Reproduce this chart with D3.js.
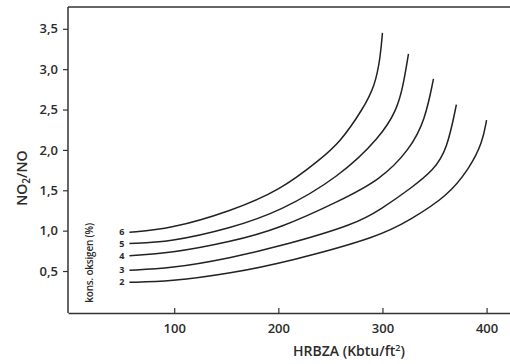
<!DOCTYPE html>
<html>
<head>
<meta charset="utf-8">
<script src="https://cdn.jsdelivr.net/npm/d3@7"></script>
<style>
  body { margin: 0; background: #fff; }
  svg text { font-family: "Open Sans", sans-serif; fill: #2b2b2b; }
</style>
</head>
<body>
<svg id="chart" width="510" height="364"></svg>
<script>
// oxygen concentration (%) per curve, top to bottom
const oxygen = [6, 5, 4, 3, 2];

// HRBZA (Kbtu/ft2) vs NO2/NO
const curve6 = [[57,0.98],[96,1.02],[154,1.24],[202,1.50],[240,1.88],[259,2.09],[281,2.50],[293,2.80],[298,3.15],[300,3.45]];
const curve5 = [[57,0.84],[96,0.86],[154,1.03],[202,1.24],[259,1.67],[298,2.16],[314,2.50],[320,2.80],[325,3.19]];
const curve4 = [[57,0.69],[96,0.72],[154,0.86],[202,1.03],[259,1.37],[298,1.63],[326,2.00],[341,2.37],[349,2.88]];
const curve3 = [[57,0.51],[96,0.53],[154,0.66],[206,0.82],[274,1.08],[298,1.26],[329,1.54],[349,1.75],[362,2.00],[371,2.56]];
const curve2 = [[57,0.36],[96,0.37],[154,0.47],[211,0.62],[298,0.93],[326,1.13],[362,1.42],[384,1.78],[396,2.09],[400,2.37]];
const curves = [curve6, curve5, curve4, curve3, curve2];

const xTicks = [100, 200, 300, 400];
const yTicks = [0.5, 1.0, 1.5, 2.0, 2.5, 3.0, 3.5];

const margin = {top: 7, right: 0, bottom: 51, left: 68};
const width = 510, height = 364;

const svg = d3.select("#chart");

const x = d3.scaleLinear()
  .domain([-2, 422.5])
  .range([margin.left, width - margin.right]);

const y = d3.scaleLinear()
  .domain([-0.02, 3.77])
  .range([height - margin.bottom, margin.top]);

// frame: top line (left and bottom come from the axes)
svg.append("line")
  .attr("x1", margin.left).attr("x2", width)
  .attr("y1", margin.top).attr("y2", margin.top)
  .attr("stroke", "#333").attr("stroke-width", 1.5);

const xAxis = svg.append("g")
  .attr("transform", "translate(0," + (height - margin.bottom) + ")")
  .call(d3.axisBottom(x).tickValues(xTicks).tickSizeInner(-5).tickSizeOuter(0).tickPadding(11));

const yAxis = svg.append("g")
  .attr("transform", "translate(" + margin.left + ",0)")
  .call(d3.axisLeft(y).tickValues(yTicks).tickSizeInner(5).tickSizeOuter(0).tickPadding(5)
    .tickFormat(d => d3.format(".1f")(d).replace(".", ",")));

[xAxis, yAxis].forEach(g => {
  g.select(".domain").attr("stroke", "#333").attr("stroke-width", 1.5);
  g.selectAll(".tick line").attr("stroke", "#333").attr("stroke-width", 1.2);
  g.selectAll(".tick text")
    .attr("font-family", "'Open Sans', sans-serif")
    .attr("font-size", 13)
    .attr("font-weight", 600)
    .attr("fill", "#2b2b2b");
});
yAxis.select(".domain").attr("d", "M0," + margin.top + "V" + (height - margin.bottom));

// the curves, smoothed
const line = d3.line()
  .x(d => x(d[0]))
  .y(d => y(d[1]))
  .curve(d3.curveBasis);

svg.selectAll("path.curve")
  .data(curves)
  .enter()
  .append("path")
  .attr("class", "curve")
  .attr("d", line)
  .attr("fill", "none")
  .attr("stroke", "#222")
  .attr("stroke-width", 1.5);

// curve labels
svg.selectAll("text.olabel")
  .data(curves)
  .enter()
  .append("text")
  .attr("class", "olabel")
  .attr("x", d => x(d[0][0]) - 5)
  .attr("y", d => y(d[0][1]))
  .attr("dy", "0.35em")
  .attr("text-anchor", "end")
  .attr("font-size", 9)
  .attr("font-weight", 700)
  .text((d, i) => oxygen[i]);

svg.append("text")
  .attr("transform", "translate(93," + y(0.6) + ") rotate(-90)")
  .attr("text-anchor", "middle")
  .attr("font-size", 10)
  .attr("font-weight", 600)
  .attr("letter-spacing", -0.2)
  .text("kons. oksigen (%)");

// axis titles
const yt = svg.append("text")
  .attr("transform", "translate(27," + y(1.65) + ") rotate(-90)")
  .attr("text-anchor", "middle")
  .attr("font-size", 14)
  .attr("font-weight", 600);
yt.append("tspan").text("NO");
yt.append("tspan").attr("font-size", 10).attr("dy", 3).text("2");
yt.append("tspan").attr("dy", -3).text("/NO");

const xt = svg.append("text")
  .attr("x", 349)
  .attr("y", 356)
  .attr("text-anchor", "middle")
  .attr("font-size", 14)
  .attr("font-weight", 600);
xt.append("tspan").text("HRBZA (Kbtu/ft");
xt.append("tspan").attr("font-size", 9).attr("dy", -5).text("2");
xt.append("tspan").attr("dy", 5).text(")");
</script>
</body>
</html>
